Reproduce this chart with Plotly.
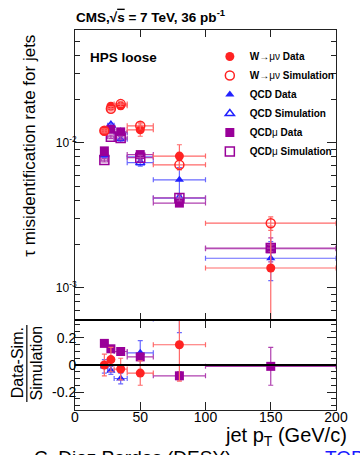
import numpy as np
import plotly.graph_objects as go

# ---------------- data ----------------
pt = [22.5, 27.5, 35, 50, 80, 150]
pt_err = [2.5, 2.5, 5, 10, 20, 50]

w_data = [0.0121, 0.0179, 0.0180, 0.0123, 0.0081, 0.00137]
w_data_err = [0.0007, 0.0009, 0.0010, 0.0012, 0.0016, 0.0013]
w_sim = [0.0121, 0.0172, 0.0185, 0.0131, 0.00705, 0.00279]
w_sim_err = [0.0004, 0.0006, 0.0007, 0.0008, 0.0005, 0.0003]

qcd_data = [0.0082, 0.0127, 0.0106, 0.0080, 0.00556, 0.0016]
qcd_data_err = [0.0003, 0.0005, 0.0005, 0.0006, 0.0012, 0.00048]
qcd_sim = [0.0083, 0.0132, 0.0118, 0.0073, 0.00416, None]
qcd_sim_err = [0.0003, 0.0004, 0.0004, 0.0004, 0.0003, None]

qmu_data = [0.0088, 0.0124, 0.0119, 0.0083, 0.00384, 0.00186]
qmu_data_err = [0.0003, 0.0004, 0.0004, 0.0004, 0.0002, 0.00035]
qmu_sim = [0.0076, 0.0110, 0.0108, 0.0079, 0.00417, 0.00188]
qmu_sim_err = [0.0002, 0.0003, 0.0003, 0.0003, 0.0002, 0.0001]

r_w = [0.0, 0.04, -0.03, -0.06, 0.15, None]
r_w_err = [0.08, 0.09, 0.08, 0.09, 0.27, None]
r_qcd = [-0.01, -0.04, -0.10, 0.09, 0.34, None]
r_qcd_err = [0.05, 0.03, 0.04, 0.09, 0.10, None]
r_qmu = [0.16, 0.12, 0.10, 0.06, -0.08, -0.01]
r_qmu_err = [0.01, 0.01, 0.01, 0.02, 0.03, 0.14]

y_ticks = [1e-3, 1e-2]
y_ticktext = ["10<sup>-3</sup>", "10<sup>-2</sup>"]
r_ticks = [-0.2, 0, 0.2]
r_ticktext = ["-0.2", "0", "0.2"]

# ---------------- style ----------------
RED = "#ff2222"
RED_L = "#ff6a6a"
BLUE = "#2222ff"
BLUE_L = "#6a6aff"
PUR = "#990099"
PUR_L = "#b040b0"
FONT = "Liberation Sans"

W, H = 360, 455
ML, MR, MT, MB = 75, 14, 30, 45
PH = H - MT - MB
split = (H - MB - 320) / PH


def px2x(px):
    return (px - ML) / (W - ML - MR)


def py2y(py):
    return (H - MB - py) / PH


fig = go.Figure()


def add(x, y, yerr, name, color, ecolor, symbol, size, rank, yaxis="y", xaxis="x", show=True):
    fig.add_trace(go.Scatter(
        x=x, y=y, mode="markers", name=name, legendrank=rank, showlegend=show,
        xaxis=xaxis, yaxis=yaxis, hoverinfo="skip",
        marker=dict(symbol=symbol, size=size, color=color,
                    line=dict(color=color, width=1.5 if "open" in symbol else 0)),
        error_x=dict(type="data", array=pt_err, color=ecolor, thickness=1.2, width=2.5),
        error_y=dict(type="data", array=yerr, color=ecolor, thickness=1.2, width=2.5),
    ))


# upper panel (draw blue, purple, red)
add(pt, qcd_data, qcd_data_err, "<b>QCD Data</b>", BLUE, BLUE_L, "triangle-up", 8, 3)
add(pt, qcd_sim, qcd_sim_err, "<b>QCD Simulation</b>", BLUE, BLUE_L, "triangle-up-open", 8, 4)
add(pt, qmu_data, qmu_data_err, "<b>QCD</b>μ <b>Data</b>", PUR, PUR_L, "square", 9, 5)
add(pt, qmu_sim, qmu_sim_err, "<b>QCD</b>μ <b>Simulation</b>", PUR, PUR_L, "square-open", 9, 6)
add(pt, w_data, w_data_err, "<b>W</b>→μν <b>Data</b>", RED, RED_L, "circle", 9, 1)
add(pt, w_sim, w_sim_err, "<b>W</b>→μν <b>Simulation</b>", RED, RED_L, "circle-open", 9, 2)

# ratio panel
add(pt, r_qcd, r_qcd_err, "qcd ratio", BLUE, BLUE_L, "triangle-up", 8, 10, "y2", "x2", False)
add(pt, r_qmu, r_qmu_err, "qmu ratio", PUR, PUR_L, "square", 9, 11, "y2", "x2", False)
add(pt, r_w, r_w_err, "w ratio", RED, RED_L, "circle", 9, 12, "y2", "x2", False)

axis_common = dict(showline=True, linecolor="#222", linewidth=1, mirror="ticks",
                   ticks="inside", tickcolor="#222", showgrid=False, zeroline=False)

minor_log = [m * 10.0 ** e for e in (-4, -3, -2) for m in range(2, 10)]

fig.update_layout(
    width=W, height=H,
    margin=dict(l=ML, r=MR, t=MT, b=MB),
    paper_bgcolor="white", plot_bgcolor="white",
    font=dict(family=FONT, color="black"),
    hovermode=False,
    xaxis=dict(domain=[0, 1], range=[0, 200], anchor="y", dtick=50, tick0=0,
               showticklabels=False, ticklen=7, **axis_common),
    yaxis=dict(domain=[split, 1], type="log", anchor="x",
               range=[np.log10(6e-4), np.log10(6e-2)],
               tickmode="array", tickvals=y_ticks, ticktext=y_ticktext,
               ticklen=9, tickfont=dict(size=12), ticklabelstandoff=-5,
               minor=dict(tickmode="array", tickvals=minor_log, ticklen=5,
                          ticks="inside", tickcolor="#222"),
               **axis_common),
    xaxis2=dict(domain=[0, 1], range=[0, 200], anchor="y2", matches="x",
                dtick=50, tick0=0, ticklen=8, tickfont=dict(size=14),
                ticklabelstandoff=-6, **axis_common),
    yaxis2=dict(domain=[0, split], range=[-0.333, 0.333], anchor="x2",
                tickmode="array", tickvals=r_ticks, ticktext=r_ticktext,
                ticklen=9, tickfont=dict(size=14), ticklabelstandoff=-5,
                minor=dict(tickmode="linear", tick0=0, dtick=0.05, ticklen=5,
                           ticks="inside", tickcolor="#222"),
                **axis_common),
    legend=dict(x=px2x(215), y=py2y(42), xanchor="left", yanchor="top",
                bgcolor="rgba(0,0,0,0)", font=dict(size=10, family=FONT),
                itemsizing="trace", tracegroupgap=0),
)

# zero line and panel separator
fig.add_shape(type="line", xref="x2", yref="y2", x0=0, x1=200, y0=0, y1=0,
              line=dict(color="black", width=2))
fig.add_shape(type="line", xref="paper", yref="paper", x0=0, x1=1, y0=split, y1=split,
              line=dict(color="black", width=2))
# fraction bar of ratio title
fig.add_shape(type="line", xref="paper", yref="paper", x0=px2x(25), x1=px2x(25),
              y0=py2y(402), y1=py2y(325), line=dict(color="black", width=1.2))

ann = [
    dict(text="<b>CMS,√<span style='text-decoration:overline'>s</span> = 7 TeV, 36 pb<sup>-1</sup></b>",
         x=px2x(74), y=py2y(16), xanchor="left", yanchor="middle", font=dict(size=13.5)),
    dict(text="<b>HPS loose</b>", x=px2x(89), y=py2y(57), xanchor="left",
         yanchor="middle", font=dict(size=13.5)),
    dict(text="τ misidentification rate for jets", x=px2x(27), y=py2y(146),
         textangle=-90, xanchor="center", yanchor="middle", font=dict(size=17)),
    dict(text="Data-Sim.", x=px2x(15), y=py2y(363), textangle=-90,
         xanchor="center", yanchor="middle", font=dict(size=16)),
    dict(text="Simulation", x=px2x(34), y=py2y(363), textangle=-90,
         xanchor="center", yanchor="middle", font=dict(size=16)),
    dict(text="jet p<sub>T</sub> (GeV/c)", x=px2x(360), y=py2y(437),
         xanchor="right", yanchor="middle", font=dict(size=20)),
    dict(text="C. Diez Pardos (DESY)", x=px2x(30), y=py2y(445),
         xanchor="left", yanchor="top", font=dict(size=19)),
    dict(text="TOP", x=px2x(333), y=py2y(445),
         xanchor="left", yanchor="top", font=dict(size=19, color="#1a1aff")),
]
for a in ann:
    fig.add_annotation(xref="paper", yref="paper", showarrow=False, **a)

fig.write_html("out.html", config={"displayModeBar": False},
               post_script="document.body.style.margin='0';document.body.style.padding='0';")
